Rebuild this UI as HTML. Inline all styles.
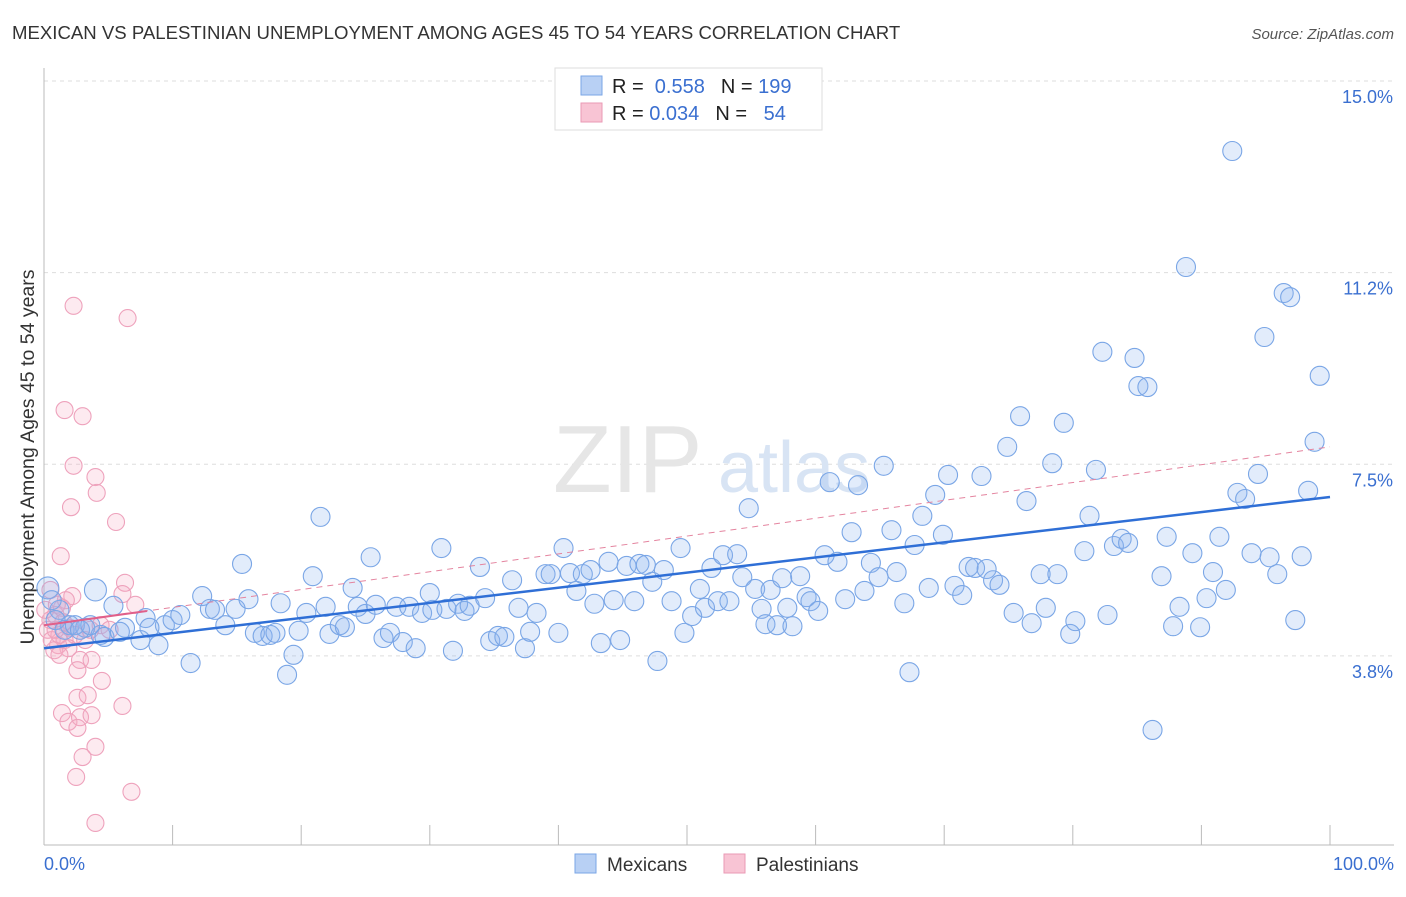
<!DOCTYPE html>
<html><head><meta charset="utf-8"><style>
body{margin:0;background:#fff;font-family:"Liberation Sans",sans-serif;}
svg text{font-family:"Liberation Sans",sans-serif;}
</style></head><body>
<svg id="chart" width="1406" height="892" xmlns="http://www.w3.org/2000/svg">
<text x="12" y="39" font-size="18.6" fill="#333">MEXICAN VS PALESTINIAN UNEMPLOYMENT AMONG AGES 45 TO 54 YEARS CORRELATION CHART</text>
<text x="1394" y="39" font-size="15" fill="#555" font-style="italic" text-anchor="end">Source: ZipAtlas.com</text>
<g id="grid"></g>
<g><text x="553" y="492" font-size="96" font-family="Liberation Serif" fill="#e6e6e6">ZIP</text><text x="718" y="492" font-size="72" fill="#d8e4f4">atlas</text></g>
<line x1="44" y1="68" x2="44" y2="845" stroke="#bbb"/>
<line x1="44" y1="845" x2="1394" y2="845" stroke="#bbb"/>
<g id="xticks"></g>
<g id="yticks"></g>
<text x="44" y="870" font-size="18" fill="#3a6fd0">0.0%</text>
<text x="1394" y="870" font-size="18" fill="#3a6fd0" text-anchor="end">100.0%</text>
<text transform="translate(34,457) rotate(-90)" font-size="19.5" fill="#333" text-anchor="middle">Unemployment Among Ages 45 to 54 years</text>
<g id="pink"></g>
<g id="blue"></g>
<g id="trends"></g>
<g>
<rect x="555" y="68" width="267" height="62" fill="#fff" stroke="#ddd"/>
<rect x="581" y="76" width="21" height="19" fill="#b8d0f4" stroke="#7aa6e6"/>
<rect x="581" y="103" width="21" height="19" fill="#f8c4d4" stroke="#ea9ab5"/>
<text x="612" y="93" font-size="20" fill="#222">R = <tspan fill="#3a6fd0">&#160;0.558</tspan><tspan dx="16">N = </tspan><tspan fill="#3a6fd0">199</tspan></text>
<text x="612" y="120" font-size="20" fill="#222">R = <tspan fill="#3a6fd0">0.034</tspan><tspan dx="16">N = </tspan><tspan fill="#3a6fd0">&#160;&#160;54</tspan></text>
</g>
<g>
<rect x="575" y="854" width="21" height="19" fill="#b8d0f4" stroke="#7aa6e6"/>
<text x="607" y="871" font-size="19" fill="#333">Mexicans</text>
<rect x="724" y="854" width="21" height="19" fill="#f8c4d4" stroke="#ea9ab5"/>
<text x="756" y="871" font-size="19" fill="#333">Palestinians</text>
</g>
</svg>
<script>
const yTicks=[3.75,7.5,11.25,15];
const yTickLabels=["3.8%","7.5%","11.2%","15.0%"];
const blueX=[0.3,4.0,1.2,5.4,2.0,3.2,4.4,4.7,6.3,7.5,8.9,7.9,9.4,10.0,10.6,11.4,12.3,12.9,13.3,14.1,14.9,15.4,15.9,16.4,17.0,17.6,18.0,18.4,18.9,19.4,19.8,20.4,20.9,21.5,21.9,22.2,23.0,23.4,24.0,24.4,25.0,25.4,25.8,26.4,26.9,27.4,27.9,28.4,28.9,29.4,30.0,30.2,30.9,31.3,31.8,32.2,32.7,33.1,33.9,34.3,34.7,35.3,35.8,36.4,36.9,37.4,37.8,38.3,39.0,39.4,40.0,40.4,40.9,41.4,41.9,42.5,42.8,43.3,43.9,44.3,44.8,45.3,45.9,46.3,46.8,47.3,47.7,48.2,48.8,49.5,49.8,50.4,51.0,51.4,51.9,52.4,52.8,53.3,53.9,54.3,54.8,55.3,55.8,56.1,56.5,57.0,57.4,57.8,58.2,58.8,59.3,59.6,60.2,60.7,61.1,61.7,62.3,62.8,63.3,63.8,64.3,64.9,65.3,65.9,66.3,66.9,67.3,67.7,68.3,68.8,69.3,69.9,70.3,70.8,71.4,71.9,72.4,72.9,73.3,73.8,74.3,74.9,75.4,75.9,76.4,76.8,77.5,77.9,78.4,78.8,79.3,79.8,80.2,80.9,81.3,81.8,82.3,82.7,83.2,83.8,84.3,84.8,85.1,85.8,86.2,86.9,87.3,87.8,88.3,88.8,89.3,89.9,90.4,90.9,91.4,91.9,92.4,92.8,93.4,93.9,94.4,94.9,95.3,95.9,96.4,96.9,97.3,97.8,98.3,98.8,99.2,0.9,1.6,2.4,2.8,0.6,3.6,5.9,8.2];
const blueY=[5.08,5.04,4.65,4.73,4.35,4.30,4.16,4.12,4.30,4.06,3.96,4.49,4.35,4.45,4.55,3.61,4.92,4.67,4.65,4.35,4.67,5.55,4.86,4.20,4.14,4.16,4.20,4.78,3.38,3.77,4.24,4.59,5.31,6.47,4.71,4.18,4.35,4.31,5.08,4.71,4.57,5.68,4.75,4.10,4.20,4.71,4.02,4.71,3.90,4.59,4.98,4.65,5.86,4.67,3.85,4.77,4.63,4.73,5.49,4.88,4.04,4.14,4.12,5.23,4.69,3.90,4.22,4.59,5.35,5.35,4.20,5.86,5.37,5.02,5.35,5.43,4.77,4.00,5.59,4.84,4.06,5.51,4.82,5.55,5.53,5.20,3.65,5.43,4.82,5.86,4.20,4.53,5.06,4.69,5.47,4.82,5.72,4.82,5.74,5.29,6.64,5.06,4.67,4.37,5.04,4.35,5.27,4.69,4.33,5.31,4.90,4.82,4.63,5.72,7.15,5.59,4.86,6.17,7.09,5.02,5.57,5.29,7.47,6.21,5.39,4.78,3.43,5.92,6.49,5.08,6.90,6.12,7.29,5.12,4.94,5.49,5.47,7.27,5.45,5.23,5.14,7.84,4.59,8.44,6.78,4.39,5.35,4.69,7.52,5.35,8.31,4.18,4.43,5.80,6.49,7.39,9.70,4.55,5.90,6.04,5.96,9.58,9.03,9.01,2.30,5.31,6.08,4.33,4.71,11.36,5.76,4.31,4.88,5.39,6.08,5.04,13.63,6.94,6.82,5.76,7.31,9.99,5.68,5.35,10.85,10.77,4.45,5.70,6.98,7.94,9.23,4.45,4.26,4.35,4.26,4.84,4.35,4.22,4.30];
const pinkX=[2.3,6.5,1.6,3.0,2.3,4.0,4.1,2.1,5.6,1.3,6.3,6.1,2.2,7.1,1.7,1.4,0.9,0.5,0.3,0.6,1.1,1.2,1.6,2.0,2.4,1.9,2.8,3.7,2.6,4.5,2.6,3.4,1.4,1.9,2.8,3.7,6.1,2.6,4.0,3.0,2.5,6.8,4.0,0.9,1.5,0.8,1.2,3.2,3.6,4.4,5.1,0.1,0.5,1.0];
const pinkY=[10.60,10.36,8.56,8.44,7.47,7.25,6.94,6.66,6.37,5.70,5.18,4.96,4.92,4.75,4.84,4.69,4.55,4.45,4.26,4.06,3.96,4.16,4.06,4.30,4.16,3.90,3.67,3.67,3.47,3.26,2.93,2.98,2.63,2.46,2.55,2.59,2.77,2.34,1.97,1.77,1.38,1.09,0.48,4.26,4.41,3.86,3.77,4.06,4.26,4.35,4.26,4.65,5.04,4.75];
const blueTrendX=[0,100], blueTrendY=[3.90,6.86];
const pinkTrendX=[0,100], pinkTrendY=[4.35,7.84];

const NS="http://www.w3.org/2000/svg";
const sx=v=>44+v*12.86;
const sy=v=>81+(15-v)*51.1;
function mk(tag,attrs,parent){const e=document.createElementNS(NS,tag);for(const k in attrs)e.setAttribute(k,attrs[k]);parent.appendChild(e);return e;}
const grid=document.getElementById('grid'),yt=document.getElementById('yticks'),xt=document.getElementById('xticks');
yTicks.forEach((t,i)=>{
 const l=mk('line',{x1:44,x2:1394,y1:sy(t),y2:sy(t),stroke:'#ddd','stroke-dasharray':'4,4'},grid);
 
 
 const tx=mk('text',{x:1393,y:sy(t)+22,'font-size':18,fill:'#3a6fd0','text-anchor':'end'},yt);
 tx.textContent=yTickLabels[i];
 
 
});
for(let i=0;i<=10;i++){
 const l=mk('line',{x1:sx(i*10),x2:sx(i*10),y1:825,y2:845,stroke:'#bbb'},xt);
 
 
}
const pg=document.getElementById('pink');
pinkX.forEach((x,i)=>{
 const c=mk('circle',{cx:sx(x),cy:sy(pinkY[i]),r:8.5,fill:'rgba(246,170,196,0.25)',stroke:'#eea2bc','stroke-width':1.1},pg);
 
 
});
const bg=document.getElementById('blue');
blueX.forEach((x,i)=>{
 const big=(i<2);
 const c=mk('circle',{cx:sx(x),cy:sy(blueY[i]),r:big?11:9.5,fill:'rgba(140,178,238,0.25)',stroke:'#7aa6e6','stroke-width':1.1},bg);
 
 
});
const tg=document.getElementById('trends');
const pl=mk('line',{x1:sx(pinkTrendX[0]),y1:sy(pinkTrendY[0]),x2:sx(pinkTrendX[1]),y2:sy(pinkTrendY[1]),stroke:'#e4849f','stroke-width':1,'stroke-dasharray':'6,5'},tg);


const ps=mk('line',{x1:sx(pinkTrendX[0]),y1:sy(pinkTrendY[0]),x2:sx(8),y2:sy(pinkTrendY[0]+(pinkTrendY[1]-pinkTrendY[0])*0.08),stroke:'#e0608a','stroke-width':2},tg);


const bl=mk('line',{x1:sx(blueTrendX[0]),y1:sy(blueTrendY[0]),x2:sx(blueTrendX[1]),y2:sy(blueTrendY[1]),stroke:'#2f6fd6','stroke-width':2.5},tg);


</script>
</body></html>
